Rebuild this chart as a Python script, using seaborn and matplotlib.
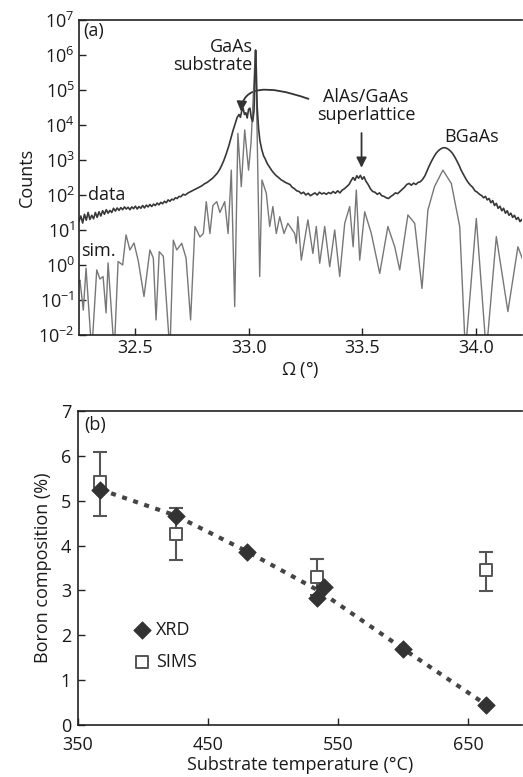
import numpy as np
import pandas as pd
import matplotlib
matplotlib.use("Agg")
import matplotlib.pyplot as plt
import seaborn as sns
from matplotlib.ticker import LogLocator, LogFormatterSciNotation, FixedLocator, NullLocator
from matplotlib.patches import FancyArrowPatch

# ---------------- data: panel (a) XRD scan (log10 counts) ----------------
data_omega = [32.254, 32.262, 32.270, 32.278, 32.286, 32.294, 32.302, 32.310, 32.318, 32.326,
              32.334, 32.342, 32.350, 32.358, 32.366, 32.374, 32.382, 32.390, 32.398, 32.406,
              32.414, 32.422, 32.430, 32.438, 32.446, 32.454, 32.462, 32.470, 32.478, 32.486,
              32.494, 32.502, 32.510, 32.518, 32.526, 32.534, 32.542, 32.550, 32.558, 32.566,
              32.574, 32.582, 32.590, 32.598, 32.606, 32.614, 32.622, 32.630, 32.638, 32.646,
              32.654, 32.662, 32.670, 32.678, 32.686, 32.694, 32.702, 32.712, 32.722, 32.734,
              32.746, 32.758, 32.770, 32.782, 32.794, 32.806, 32.818, 32.830, 32.842, 32.852,
              32.862, 32.872, 32.882, 32.892, 32.902, 32.912, 32.922, 32.932, 32.942, 32.950,
              32.958, 32.964, 32.970, 32.976, 32.982, 32.988, 32.994, 33.000, 33.006, 33.012,
              33.018, 33.024, 33.028, 33.031, 33.034, 33.038, 33.044, 33.050, 33.058, 33.066,
              33.074, 33.082, 33.092, 33.102, 33.112, 33.122, 33.132, 33.142, 33.152, 33.162,
              33.172, 33.182, 33.192, 33.202, 33.212, 33.222, 33.232, 33.242, 33.252, 33.262,
              33.272, 33.282, 33.292, 33.302, 33.312, 33.322, 33.332, 33.342, 33.352, 33.362,
              33.372, 33.382, 33.392, 33.402, 33.412, 33.422, 33.432, 33.442, 33.452, 33.460,
              33.468, 33.476, 33.484, 33.492, 33.500, 33.508, 33.516, 33.526, 33.536, 33.546,
              33.556, 33.566, 33.576, 33.586, 33.596, 33.606, 33.616, 33.626, 33.636, 33.646,
              33.656, 33.666, 33.676, 33.686, 33.696, 33.706, 33.716, 33.726, 33.736, 33.746,
              33.756, 33.766, 33.776, 33.786, 33.796, 33.806, 33.816, 33.826, 33.836, 33.846,
              33.856, 33.866, 33.876, 33.886, 33.896, 33.906, 33.916, 33.926, 33.936, 33.946,
              33.956, 33.966, 33.976, 33.986, 33.996, 34.006, 34.016, 34.026, 34.034, 34.042,
              34.050, 34.058, 34.066, 34.074, 34.082, 34.090, 34.098, 34.106, 34.114, 34.122,
              34.130, 34.138, 34.146, 34.154, 34.162, 34.170, 34.178, 34.186, 34.194, 34.202,
              34.210]
data_log = [1.25, 1.40, 1.20, 1.45, 1.28, 1.50, 1.30, 1.42, 1.32, 1.50,
            1.36, 1.52, 1.40, 1.55, 1.45, 1.58, 1.48, 1.56, 1.50, 1.62,
            1.54, 1.63, 1.56, 1.64, 1.58, 1.66, 1.60, 1.65, 1.58, 1.66,
            1.61, 1.68, 1.60, 1.67, 1.62, 1.70, 1.63, 1.71, 1.66, 1.73,
            1.67, 1.74, 1.70, 1.77, 1.72, 1.79, 1.75, 1.82, 1.78, 1.86,
            1.82, 1.88, 1.86, 1.92, 1.90, 1.96, 1.95, 2.02, 2.00, 2.06,
            2.10, 2.14, 2.18, 2.22, 2.26, 2.32, 2.36, 2.42, 2.48, 2.55,
            2.62, 2.72, 2.85, 3.00, 3.18, 3.38, 3.62, 3.85, 4.05, 4.22,
            4.30, 4.22, 4.40, 4.48, 4.30, 4.35, 4.20, 4.45, 4.48, 4.20,
            4.10, 4.40, 5.50, 6.14, 5.60, 4.50, 3.90, 3.55, 3.30, 3.12,
            3.02, 2.90, 2.80, 2.70, 2.62, 2.55, 2.50, 2.44, 2.40, 2.36,
            2.33, 2.30, 2.22, 2.18, 2.12, 2.10, 2.04, 2.08, 2.00, 2.05,
            1.98, 2.02, 2.06, 2.00, 2.08, 2.03, 2.06, 2.02, 2.07, 2.04,
            2.10, 2.05, 2.12, 2.06, 2.14, 2.18, 2.24, 2.30, 2.42, 2.50,
            2.42, 2.55, 2.48, 2.56, 2.45, 2.52, 2.40, 2.30, 2.18, 2.10,
            2.08, 2.02, 2.06, 1.98, 1.96, 1.92, 1.90, 1.96, 2.00, 2.06,
            2.04, 2.10, 2.16, 2.22, 2.30, 2.33, 2.28, 2.34, 2.30, 2.36,
            2.38, 2.45, 2.55, 2.70, 2.85, 2.98, 3.10, 3.20, 3.27, 3.32,
            3.35, 3.35, 3.32, 3.27, 3.20, 3.10, 2.98, 2.85, 2.70, 2.58,
            2.46, 2.36, 2.28, 2.22, 2.12, 2.08, 2.02, 1.98, 1.92, 1.96,
            1.86, 1.90, 1.78, 1.84, 1.70, 1.76, 1.62, 1.68, 1.55, 1.62,
            1.48, 1.55, 1.42, 1.48, 1.36, 1.42, 1.30, 1.36, 1.24, 1.30,
            1.20]

sim_omega = [32.254, 32.258, 32.273, 32.285, 32.310, 32.332, 32.346, 32.360, 32.373, 32.382,
             32.409, 32.426, 32.446, 32.461, 32.478, 32.496, 32.515, 32.540, 32.566, 32.581,
             32.593, 32.607, 32.625, 32.654, 32.669, 32.684, 32.706, 32.725, 32.745, 32.764,
             32.786, 32.801, 32.814, 32.830, 32.843, 32.860, 32.874, 32.895, 32.910, 32.924,
             32.939, 32.953, 32.968, 32.983, 33.000, 33.011, 33.022, 33.030, 33.037, 33.049,
             33.059, 33.078, 33.093, 33.107, 33.122, 33.137, 33.156, 33.173, 33.203, 33.210,
             33.217, 33.232, 33.261, 33.283, 33.298, 33.313, 33.335, 33.357, 33.379, 33.401,
             33.423, 33.445, 33.460, 33.474, 33.489, 33.511, 33.540, 33.577, 33.613, 33.643,
             33.665, 33.701, 33.731, 33.763, 33.789, 33.818, 33.855, 33.892, 33.929, 33.954,
             34.002, 34.046, 34.090, 34.141, 34.185, 34.207]
sim_log = [-0.50, -0.43, -1.29, -0.09, -2.50, -0.14, -0.40, -0.33, -1.37, 0.06,
           -2.50, 0.10, 0.00, 0.86, 0.43, 0.63, 0.11, -0.90, 0.43, 0.20,
           -1.57, 0.38, 0.25, -2.50, 0.71, 0.43, 0.62, 0.20, -1.57, 1.10,
           0.80, 0.90, 1.81, 0.90, 1.70, 1.81, 1.50, 1.81, 0.90, 2.71,
           -1.19, 3.76, 2.24, 3.86, 2.71, 3.50, 5.00, 6.14, 4.00, -0.33,
           2.43, 2.05, 1.10, 1.67, 0.90, 1.38, 0.90, 1.19, 0.90, 0.62,
           1.38, 0.14, 1.29, 0.33, 1.10, 0.05, 1.10, -0.05, 1.00, -0.33,
           1.19, 1.67, 0.52, 2.14, 0.14, 1.52, 0.90, -0.24, 1.10, 0.52,
           -0.14, 1.43, 1.19, -0.67, 1.57, 2.24, 2.71, 2.33, 1.10, -2.50,
           1.33, -2.50, 0.81, -1.33, 0.52, 0.14]

# ---------------- data: panel (b) boron composition ----------------
xrd_temp = [367, 425, 480, 534, 539, 600, 664]
xrd_boron = [5.25, 4.66, 3.86, 2.84, 3.08, 1.69, 0.45]
sims_temp = [367, 425, 534, 664]
sims_boron = [5.42, 4.25, 3.30, 3.45]
sims_err_low = [0.77, 0.58, 0.40, 0.47]
sims_err_high = [0.66, 0.58, 0.39, 0.41]
fit_temp = [367, 425, 480, 536, 600, 664]
fit_boron = [5.25, 4.67, 3.87, 2.98, 1.70, 0.45]

# ---------------- style ----------------
sns.set_theme(style="ticks")
plt.rcParams['font.family'] = ['Open Sans', 'DejaVu Sans']
plt.rcParams['mathtext.fontset'] = 'custom'
plt.rcParams['mathtext.rm'] = 'Open Sans'
plt.rcParams['mathtext.it'] = 'Open Sans:italic'
plt.rcParams['font.size'] = 13
FS = 13
TXT = '#1a1a1a'

fig = plt.figure(figsize=(5.23, 7.77), dpi=100)
ax1 = fig.add_axes([79/523, 1 - 335/777, 443/523, 315/777])
ax2 = fig.add_axes([78/523, 1 - 725/777, 444/523, 314/777])

# ---------------- panel (a) ----------------
df_data = pd.DataFrame({'omega': data_omega, 'counts': 10.0 ** np.array(data_log)})
df_sim = pd.DataFrame({'omega': sim_omega, 'counts': 10.0 ** np.array(sim_log)})
sns.lineplot(data=df_sim, x='omega', y='counts', ax=ax1, color='#777777', lw=1.0,
             estimator=None, sort=False)
sns.lineplot(data=df_data, x='omega', y='counts', ax=ax1, color='#383838', lw=1.2,
             estimator=None, sort=False)
ax1.set_yscale('log')
ax1.set_xlim(32.254, 34.203)
ax1.set_ylim(1e-2, 1e7)
ax1.yaxis.set_major_locator(LogLocator(base=10, numticks=20))
ax1.yaxis.set_major_formatter(LogFormatterSciNotation())
ax1.yaxis.set_minor_locator(NullLocator())
ax1.xaxis.set_major_locator(FixedLocator([32.5, 33.0, 33.5, 34.0]))
ax1.set_xticklabels(['32.5', '33.0', '33.5', '34.0'])
ax1.set_xlabel(r'$\mathit{\Omega}$ (°)', fontsize=FS, color=TXT, labelpad=1)
ax1.set_ylabel('Counts', fontsize=FS, color=TXT, labelpad=2)

ax1.text(0.01, 0.995, '(a)', transform=ax1.transAxes, ha='left', va='top', fontsize=FS, color=TXT)
ax1.text(33.017, 10 ** 5.97, 'GaAs\nsubstrate', ha='right', va='center', multialignment='right',
         fontsize=FS, color=TXT, linespacing=1.05)
ax1.text(33.517, 10 ** 4.54, 'AlAs/GaAs\nsuperlattice', ha='center', va='center',
         fontsize=FS, color=TXT, linespacing=1.05)
ax1.text(33.982, 10 ** 3.66, 'BGaAs', ha='center', va='center', fontsize=FS, color=TXT)
ax1.text(32.295, 10 ** 2.0, 'data', ha='left', va='center', fontsize=FS, color=TXT)
ax1.text(32.265, 10 ** 0.4, 'sim.', ha='left', va='center', fontsize=FS, color=TXT)

ax1.add_patch(FancyArrowPatch((33.497, 10 ** 3.85), (33.497, 10 ** 2.70),
                              arrowstyle='-|>', mutation_scale=15, color='#333333', lw=1.3))
ax1.add_patch(FancyArrowPatch((33.275, 10 ** 4.72), (32.967, 10 ** 4.30),
                              connectionstyle='angle3,angleA=160,angleB=90',
                              arrowstyle='-|>', mutation_scale=15, color='#333333', lw=1.3))

# ---------------- panel (b) ----------------
ax2.plot(fit_temp, fit_boron, color='#444444', lw=3.0, linestyle=(0, (1.2, 1.6)),
         dash_capstyle='butt', zorder=2)
ax2.errorbar(sims_temp, sims_boron, yerr=[sims_err_low, sims_err_high], fmt='none',
             ecolor='#555555', elinewidth=1.5, capsize=5, capthick=1.5, zorder=3)
sns.scatterplot(x=sims_temp, y=sims_boron, ax=ax2, marker='s', s=80, facecolor='white',
                edgecolor='#555555', linewidth=1.4, zorder=4, label='SIMS')
sns.scatterplot(x=xrd_temp, y=xrd_boron, ax=ax2, marker='D', s=80, color='#333333',
                edgecolor='#333333', linewidth=0.5, zorder=5, label='XRD')
ax2.set_xlim(350, 691.5)
ax2.set_ylim(0, 7)
ax2.xaxis.set_major_locator(FixedLocator([350, 450, 550, 650]))
ax2.yaxis.set_major_locator(FixedLocator(list(range(8))))
ax2.set_xlabel('Substrate temperature (°C)', fontsize=FS, color=TXT, labelpad=1)
ax2.set_ylabel('Boron composition (%)', fontsize=FS, color=TXT, labelpad=6)
ax2.text(0.015, 0.985, '(b)', transform=ax2.transAxes, ha='left', va='top', fontsize=FS, color=TXT)
h, l = ax2.get_legend_handles_labels()
order = [l.index('XRD'), l.index('SIMS')]
ax2.legend([h[i] for i in order], [l[i] for i in order], loc='upper left',
           bbox_to_anchor=(0.1, 0.36), frameon=False, fontsize=FS, handletextpad=0.15,
           labelspacing=0.75, borderpad=0, handlelength=1.2, labelcolor=TXT)

for ax in (ax1, ax2):
    ax.spines['right'].set_visible(False)
    for s in ('left', 'bottom', 'top'):
        ax.spines[s].set_color('#222222')
        ax.spines[s].set_linewidth(1.2)
    ax.tick_params(direction='in', length=5, width=1.0, colors='#222222',
                   labelsize=FS, labelcolor=TXT, pad=3, top=False, right=False)
ax2.tick_params(axis='x', pad=8)
ax2.tick_params(axis='y', pad=5)

fig.savefig('out.png', dpi=100)
